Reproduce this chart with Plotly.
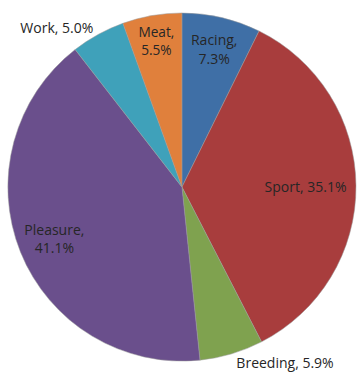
import plotly.graph_objects as go

labels = ["Racing", "Sport", "Breeding", "Pleasure", "Work", "Meat"]
values = [7.3, 35.1, 5.9, 41.1, 5.0, 5.5]
colors = ["#3f6fa6", "#a83d3d", "#7fa24f", "#6a4f8c", "#3fa1ba", "#e0803c"]
# label layout per slice: wrap onto two lines, and where the label sits
wrapped = [True, False, False, True, False, True]
placement = ["ring", "wide", "outside", "ring", "outside", "ring"]

texts = [f"{l},<br>{v:.1f}%" if w else f"{l}, {v:.1f}%" for l, v, w in zip(labels, values, wrapped)]

font = dict(family="Open Sans, sans-serif", size=14, color="#262626")
domain = dict(x=[8/361, 1], y=[16/385, 376/385])

fig = go.Figure()
fig.add_trace(go.Pie(
    labels=labels, values=values, sort=False, direction="clockwise", rotation=0,
    marker=dict(colors=colors, line=dict(color="#9a9a9a", width=0.5)),
    text=[t if p == "outside" else "" for t, p in zip(texts, placement)], textinfo="text",
    textposition=["outside" if p == "outside" else "none" for p in placement],
    textfont=font, outsidetextfont=font,
    showlegend=False, domain=domain, hoverinfo="skip",
))
for group, hole in (("ring", 0.58), ("wide", 0.42)):
    fig.add_trace(go.Pie(
        labels=labels, values=values, sort=False, direction="clockwise", rotation=0,
        hole=hole,
        marker=dict(colors=["rgba(0,0,0,0)"] * len(labels), line=dict(width=0)),
        text=[t if p == group else "" for t, p in zip(texts, placement)], textinfo="text",
        textposition=["inside" if p == group else "none" for p in placement],
        insidetextorientation="horizontal",
        textfont=font, insidetextfont=font,
        showlegend=False, domain=domain, hoverinfo="skip",
    ))
fig.update_layout(
    width=361, height=385,
    margin=dict(l=0, r=0, t=0, b=0),
    paper_bgcolor="white", plot_bgcolor="white",
)
fig.write_html("out.html")
